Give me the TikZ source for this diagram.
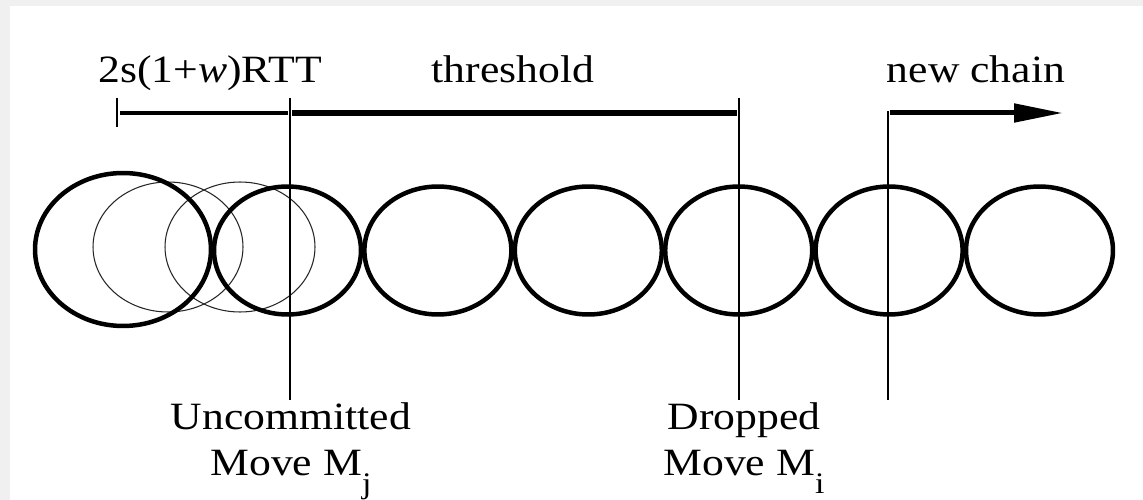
\documentclass[tikz,border=0pt]{standalone}
\usepackage{fontspec}
\setmainfont{Liberation Serif}
\usetikzlibrary{shapes.geometric, arrows.meta}

\newcommand{\lowsub}[1]{\raisebox{-10.5pt}{\fontsize{17}{17}\selectfont #1}}

\begin{document}
\begin{tikzpicture}[x=0.02cm, y=-0.02cm,
  move/.style={draw, ellipse, line width=0.09cm, inner sep=0pt,
    minimum width=2.94cm, minimum height=2.56cm},
  ghost/.style={draw, ellipse, line width=0.6pt, inner sep=0pt, black!85,
    minimum width=3.0cm, minimum height=2.6cm},
  lbl/.style={font=\fontsize{22}{26.2}\selectfont, xscale=1.13,
    inner sep=0pt, align=center},
  tick/.style={line width=0.75pt},
  bar/.style={line width=0.085cm},
  arr/.style={-{Triangle[length=0.98cm, width=0.36cm]}, line width=0.1cm},
]
% ── Frame ──
\fill[gray!12] (0,0) rectangle (1143,500);
\fill[white] (10,6) rectangle (1143,500);
\useasboundingbox (0,0) rectangle (1143,500);

% ── Moves (thin ones first, bold chain on top) ──
\node[ghost] (g1) at (168,247) {};
\node[ghost] (g2) at (240,247) {};
\node[move, minimum width=3.52cm, minimum height=3.06cm] (m0) at (123,249.5) {};
\foreach \i in {1,...,6}
  \node[move] (m\i) at ({287.5+150.4*(\i-1)},250.5) {};

% ── Markers ──
\coordinate (lt top) at (117,98);
\coordinate (lt bot) at (117,127);
\coordinate (uj top) at (290,98);
\coordinate (uj bot) at (290,400);
\coordinate (di top) at (739,98);
\coordinate (di bot) at (739,400);
\coordinate (nc top) at (888,111);
\coordinate (nc bot) at (888,400);
\coordinate (nc end) at (1063,113);

\draw[tick] (lt top) -- (lt bot);
\draw[tick] (uj top) -- (uj bot);
\draw[tick] (di top) -- (di bot);
\draw[tick] (nc top) -- (nc bot);

% ── Bars ──
\draw[bar] (120,113) -- (288,113);
\draw[bar, line width=0.115cm] (292,113) -- (737,113);
\draw[arr] (890,113) -- (nc end);

% ── Labels ──
\node[lbl, anchor=base] (rtt) at (210,83) {2s(1+\textit{w})RTT};
\node[lbl, anchor=base] (thr) at (513,83) {threshold};
\node[lbl, anchor=base] (nc) at (976,83) {new chain};
\node[lbl, anchor=north] (uj) at (291,402) {Uncommitted\\Move M\lowsub{j}};
\node[lbl, anchor=north] (di) at (744,402) {Dropped\\Move M\lowsub{i}};
\end{tikzpicture}
\end{document}
